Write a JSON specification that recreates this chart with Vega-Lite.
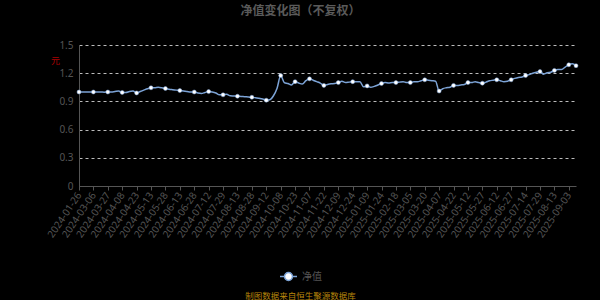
{
  "$schema": "https://vega.github.io/schema/vega-lite/v6.json",
  "autosize": "none",
  "width": 497,
  "height": 141,
  "padding": {"left": 79, "top": 45, "right": 24, "bottom": 114},
  "background": "#000000",
  "config": {"view": {"stroke": null}, "font": "Noto Sans CJK SC"},
  "title": {"text": "净值变化图（不复权）", "color": "#5a5a5a", "fontSize": 12, "fontWeight": "bold", "offset": 22, "dx": -27, "font": "Noto Sans CJK SC"},
  "data": {"values": [
    {"date": "2024-01-26", "nav": 1.00}, {"date": "2024-01-31", "nav": 1.00}, {"date": "2024-02-06", "nav": 1.00}, {"date": "2024-02-27", "nav": 1.00},
    {"date": "2024-03-06", "nav": 1.00}, {"date": "2024-03-11", "nav": 1.00}, {"date": "2024-03-15", "nav": 1.00}, {"date": "2024-03-21", "nav": 0.998},
    {"date": "2024-03-27", "nav": 1.00}, {"date": "2024-03-29", "nav": 1.00}, {"date": "2024-04-01", "nav": 1.005}, {"date": "2024-04-03", "nav": 1.01},
    {"date": "2024-04-08", "nav": 0.995}, {"date": "2024-04-11", "nav": 0.995}, {"date": "2024-04-15", "nav": 1.005}, {"date": "2024-04-18", "nav": 1.01},
    {"date": "2024-04-23", "nav": 0.99}, {"date": "2024-04-26", "nav": 1.005}, {"date": "2024-05-06", "nav": 1.02}, {"date": "2024-05-08", "nav": 1.035},
    {"date": "2024-05-13", "nav": 1.045}, {"date": "2024-05-16", "nav": 1.045}, {"date": "2024-05-21", "nav": 1.05}, {"date": "2024-05-23", "nav": 1.045},
    {"date": "2024-05-28", "nav": 1.037}, {"date": "2024-05-31", "nav": 1.03}, {"date": "2024-06-05", "nav": 1.025}, {"date": "2024-06-07", "nav": 1.02},
    {"date": "2024-06-13", "nav": 1.015}, {"date": "2024-06-17", "nav": 1.01}, {"date": "2024-06-20", "nav": 1.005}, {"date": "2024-06-25", "nav": 1.00},
    {"date": "2024-06-28", "nav": 1.00}, {"date": "2024-07-03", "nav": 0.99}, {"date": "2024-07-05", "nav": 0.985}, {"date": "2024-07-09", "nav": 0.995},
    {"date": "2024-07-12", "nav": 1.004}, {"date": "2024-07-16", "nav": 1.00}, {"date": "2024-07-19", "nav": 0.99}, {"date": "2024-07-24", "nav": 0.97},
    {"date": "2024-07-29", "nav": 0.97}, {"date": "2024-08-01", "nav": 0.975}, {"date": "2024-08-05", "nav": 0.96}, {"date": "2024-08-08", "nav": 0.958},
    {"date": "2024-08-13", "nav": 0.955}, {"date": "2024-08-16", "nav": 0.953}, {"date": "2024-08-21", "nav": 0.95}, {"date": "2024-08-23", "nav": 0.948},
    {"date": "2024-08-28", "nav": 0.944}, {"date": "2024-08-30", "nav": 0.94}, {"date": "2024-09-04", "nav": 0.933}, {"date": "2024-09-09", "nav": 0.925},
    {"date": "2024-09-12", "nav": 0.913}, {"date": "2024-09-19", "nav": 0.918}, {"date": "2024-09-24", "nav": 0.96}, {"date": "2024-09-27", "nav": 1.04},
    {"date": "2024-10-08", "nav": 1.175}, {"date": "2024-10-11", "nav": 1.10}, {"date": "2024-10-16", "nav": 1.09}, {"date": "2024-10-18", "nav": 1.075},
    {"date": "2024-10-23", "nav": 1.11}, {"date": "2024-10-28", "nav": 1.095}, {"date": "2024-10-31", "nav": 1.085}, {"date": "2024-11-04", "nav": 1.12},
    {"date": "2024-11-07", "nav": 1.14}, {"date": "2024-11-11", "nav": 1.125}, {"date": "2024-11-14", "nav": 1.11}, {"date": "2024-11-19", "nav": 1.094},
    {"date": "2024-11-22", "nav": 1.07}, {"date": "2024-11-26", "nav": 1.08}, {"date": "2024-11-29", "nav": 1.087}, {"date": "2024-12-04", "nav": 1.09},
    {"date": "2024-12-09", "nav": 1.10}, {"date": "2024-12-12", "nav": 1.115}, {"date": "2024-12-16", "nav": 1.10}, {"date": "2024-12-19", "nav": 1.105},
    {"date": "2024-12-24", "nav": 1.11}, {"date": "2024-12-27", "nav": 1.11}, {"date": "2024-12-31", "nav": 1.11}, {"date": "2025-01-06", "nav": 1.055},
    {"date": "2025-01-09", "nav": 1.065}, {"date": "2025-01-13", "nav": 1.05}, {"date": "2025-01-16", "nav": 1.06}, {"date": "2025-01-21", "nav": 1.075},
    {"date": "2025-01-24", "nav": 1.09}, {"date": "2025-02-05", "nav": 1.10}, {"date": "2025-02-10", "nav": 1.095}, {"date": "2025-02-13", "nav": 1.10},
    {"date": "2025-02-18", "nav": 1.10}, {"date": "2025-02-21", "nav": 1.105}, {"date": "2025-02-26", "nav": 1.11}, {"date": "2025-02-28", "nav": 1.10},
    {"date": "2025-03-05", "nav": 1.10}, {"date": "2025-03-10", "nav": 1.11}, {"date": "2025-03-13", "nav": 1.11}, {"date": "2025-03-17", "nav": 1.12},
    {"date": "2025-03-20", "nav": 1.13}, {"date": "2025-03-25", "nav": 1.125}, {"date": "2025-03-28", "nav": 1.12}, {"date": "2025-04-02", "nav": 1.115},
    {"date": "2025-04-07", "nav": 1.01}, {"date": "2025-04-10", "nav": 1.035}, {"date": "2025-04-15", "nav": 1.045}, {"date": "2025-04-17", "nav": 1.05},
    {"date": "2025-04-22", "nav": 1.07}, {"date": "2025-04-25", "nav": 1.07}, {"date": "2025-04-30", "nav": 1.075}, {"date": "2025-05-07", "nav": 1.08},
    {"date": "2025-05-12", "nav": 1.10}, {"date": "2025-05-15", "nav": 1.10}, {"date": "2025-05-20", "nav": 1.11}, {"date": "2025-05-22", "nav": 1.10},
    {"date": "2025-05-27", "nav": 1.094}, {"date": "2025-05-30", "nav": 1.105}, {"date": "2025-06-05", "nav": 1.12}, {"date": "2025-06-09", "nav": 1.125},
    {"date": "2025-06-12", "nav": 1.13}, {"date": "2025-06-16", "nav": 1.12}, {"date": "2025-06-19", "nav": 1.11}, {"date": "2025-06-24", "nav": 1.115},
    {"date": "2025-06-27", "nav": 1.13}, {"date": "2025-07-02", "nav": 1.145}, {"date": "2025-07-07", "nav": 1.155}, {"date": "2025-07-09", "nav": 1.16},
    {"date": "2025-07-14", "nav": 1.175}, {"date": "2025-07-17", "nav": 1.185}, {"date": "2025-07-22", "nav": 1.20}, {"date": "2025-07-24", "nav": 1.21},
    {"date": "2025-07-29", "nav": 1.217}, {"date": "2025-08-01", "nav": 1.19}, {"date": "2025-08-06", "nav": 1.205}, {"date": "2025-08-08", "nav": 1.21},
    {"date": "2025-08-13", "nav": 1.23}, {"date": "2025-08-19", "nav": 1.24}, {"date": "2025-08-25", "nav": 1.24}, {"date": "2025-08-28", "nav": 1.265},
    {"date": "2025-09-03", "nav": 1.29}, {"date": "2025-09-05", "nav": 1.30}, {"date": "2025-09-10", "nav": 1.28}
  ]},
  "encoding": {
    "x": {
      "field": "date", "type": "ordinal", "sort": null,
      "scale": {"type": "point", "padding": 0},
      "axis": {
        "values": ["2024-01-26","2024-03-06","2024-03-27","2024-04-08","2024-04-23","2024-05-13","2024-05-28","2024-06-13","2024-06-28","2024-07-12","2024-07-29","2024-08-13","2024-08-28","2024-09-12","2024-10-08","2024-10-23","2024-11-07","2024-11-22","2024-12-09","2024-12-24","2025-01-09","2025-01-24","2025-02-18","2025-03-05","2025-03-20","2025-04-07","2025-04-22","2025-05-12","2025-05-27","2025-06-12","2025-06-27","2025-07-14","2025-07-29","2025-08-13","2025-09-03"],
        "labelAngle": -56, "labelAlign": "right", "labelBaseline": "middle", "labelPadding": 3,
        "labelFontSize": 10, "labelColor": "#555555", "labelFont": "Noto Sans",
        "domainColor": "#555555", "tickColor": "#555555", "tickSize": 4, "grid": false,
        "title": "制图数据来自恒生聚源数据库", "titleColor": "#b8860b", "titleFontSize": 8.5, "titleFontWeight": "normal",
        "titleX": 221, "titleY": 109, "titleAlign": "center", "titleBaseline": "middle", "titleFont": "Noto Sans CJK SC"
      }
    },
    "y": {
      "field": "nav", "type": "quantitative",
      "scale": {"domain": [0, 1.5], "nice": false},
      "axis": {
        "values": [0, 0.3, 0.6, 0.9, 1.2, 1.5], "format": "~g",
        "labelFontSize": 10, "labelColor": "#555555", "labelPadding": 6, "labelFont": "Noto Sans",
        "domainColor": "#555555", "ticks": false,
        "grid": true, "gridColor": "#bbbbbb", "gridDash": [3, 3], "gridWidth": 1,
        "title": "元", "titleAngle": 0, "titleX": -24, "titleY": 15, "titleColor": "#aa0000", "titleFontSize": 9, "titleFontWeight": "normal", "titleAlign": "center", "titleBaseline": "middle"
      }
    }
  },
  "layer": [
    {"mark": {"type": "line", "stroke": "#7ca3d6", "strokeWidth": 1.5, "interpolate": "monotone"}},
    {
      "transform": [{"filter": {"field": "date", "oneOf": ["2024-01-26","2024-03-06","2024-03-27","2024-04-08","2024-04-23","2024-05-13","2024-05-28","2024-06-13","2024-06-28","2024-07-12","2024-07-29","2024-08-13","2024-08-28","2024-09-12","2024-10-08","2024-10-23","2024-11-07","2024-11-22","2024-12-09","2024-12-24","2025-01-09","2025-01-24","2025-02-18","2025-03-05","2025-03-20","2025-04-07","2025-04-22","2025-05-12","2025-05-27","2025-06-12","2025-06-27","2025-07-14","2025-07-29","2025-08-13","2025-09-03","2025-09-10"]}}],
      "mark": {"type": "point", "filled": true, "size": 16, "stroke": "#7ca3d6", "strokeWidth": 0.5, "opacity": 1},
      "encoding": {
        "color": {"datum": "净值", "scale": {"range": ["#ffffff"]},
          "legend": {"title": null, "orient": "none", "legendX": 200, "legendY": 222, "padding": 0,
            "symbolType": "M-1,0L-0.47,0M0.47,0L1,0M0.47,0A0.47,0.47,0,1,1,-0.47,0A0.47,0.47,0,1,1,0.47,0Z",
            "symbolSize": 289, "symbolFillColor": "#ffffff", "symbolStrokeColor": "#7ca3d6", "symbolStrokeWidth": 1.5,
            "labelColor": "#555555", "labelFontSize": 10, "labelFont": "Noto Sans CJK SC", "labelOffset": 4}}
      }
    }
  ]
}
